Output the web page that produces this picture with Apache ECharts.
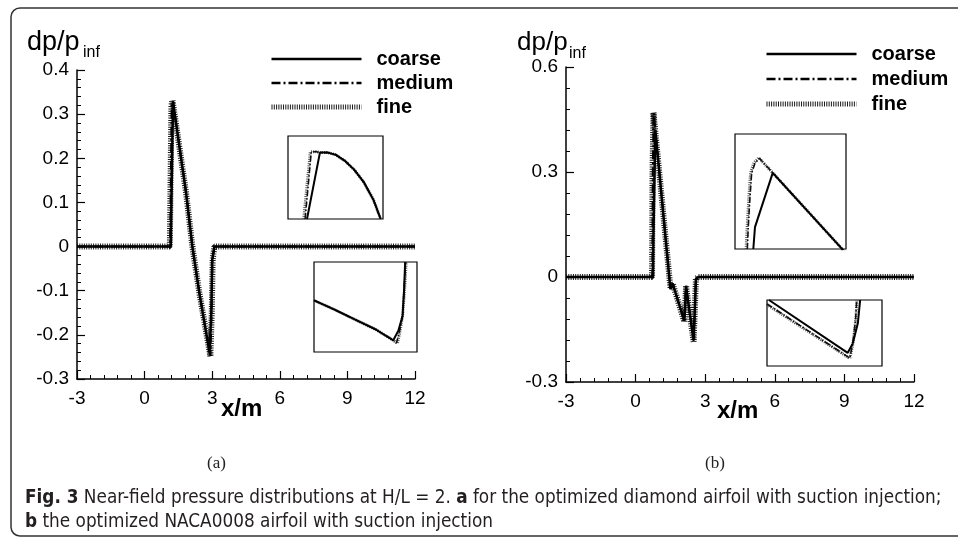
<!DOCTYPE html>
<html>
<head>
<meta charset="utf-8">
<script src="https://cdn.jsdelivr.net/npm/echarts@6/dist/echarts.min.js"></script>
<style>
html, body { margin: 0; padding: 0; background: #fff; }
#chart { width: 958px; height: 540px; }
</style>
</head>
<body>
<div id="chart"></div>
<script>
// grid names, shared by both panels
var seriesNames = ['coarse', 'medium', 'fine'];

// axis ranges / tick steps
var xRange = [-3, 12], xStep = 3;
var yRangeA = [-0.3, 0.4], yStepA = 0.1;
var yRangeB = [-0.3, 0.6], yStepB = 0.3;

// panel (a): optimized diamond airfoil, [x/m, dp/p_inf]
var coarseA = [[-3, 0], [1.16, 0], [1.26, 0.328], [1.84, 0.122], [2.12, 0], [2.43, -0.105], [2.88, -0.24], [2.96, -0.15], [3.0, -0.03], [3.1, 0], [12, 0]];
var mediumA = [[-3, 0], [1.13, 0], [1.2, 0.32], [1.25, 0.33], [1.84, 0.122], [2.12, 0], [2.43, -0.105], [2.92, -0.248], [2.97, -0.15], [3.01, -0.03], [3.1, 0], [12, 0]];
var fineA = [[-3, 0], [1.12, 0], [1.19, 0.32], [1.24, 0.331], [1.84, 0.122], [2.12, 0], [2.43, -0.105], [2.92, -0.249], [2.98, -0.15], [3.02, -0.03], [3.1, 0], [12, 0]];

// panel (b): optimized NACA0008 airfoil
var coarseB = [[-3, 0], [0.75, 0], [0.77, 0.12], [0.85, 0.42], [1.5, -0.035], [1.6, -0.02], [1.65, -0.03], [2.1, -0.125], [2.18, -0.025], [2.2, -0.04], [2.5, -0.18], [2.55, -0.1], [2.6, -0.005], [2.7, 0], [12, 0]];
var mediumB = [[-3, 0], [0.72, 0], [0.74, 0.3], [0.78, 0.468], [1.5, -0.03], [1.6, -0.018], [1.65, -0.03], [2.1, -0.128], [2.18, -0.025], [2.2, -0.04], [2.5, -0.183], [2.55, -0.1], [2.6, -0.005], [2.7, 0], [12, 0]];
var fineB = [[-3, 0], [0.71, 0], [0.73, 0.3], [0.77, 0.47], [1.5, -0.03], [1.6, -0.018], [1.65, -0.03], [2.1, -0.128], [2.18, -0.025], [2.2, -0.04], [2.5, -0.185], [2.55, -0.1], [2.6, -0.005], [2.7, 0], [12, 0]];

// insets, read in box-relative units (0..1 across each box)
var insetA1 = {
  coarse: [[0.2, 0], [0.336, 0.8], [0.42, 0.8], [0.5, 0.775], [0.6, 0.7], [0.7, 0.59], [0.8, 0.44], [0.9, 0.23], [0.975, 0]],
  medium: [[0.18, 0], [0.245, 0.81], [0.3, 0.81], [0.336, 0.8], [0.42, 0.8], [0.5, 0.775], [0.6, 0.7], [0.7, 0.59], [0.8, 0.44], [0.9, 0.23], [0.975, 0]],
  fine: [[0.165, 0], [0.235, 0.81], [0.29, 0.812], [0.336, 0.8], [0.42, 0.8], [0.5, 0.775], [0.6, 0.7], [0.7, 0.59], [0.8, 0.44], [0.9, 0.23], [0.975, 0]]
};
var insetA2 = {
  coarse: [[0, 0.574], [0.2, 0.47], [0.4, 0.36], [0.6, 0.25], [0.77, 0.13], [0.82, 0.24], [0.86, 0.4], [0.875, 0.7], [0.885, 1.0]],
  medium: [[0, 0.574], [0.2, 0.47], [0.4, 0.36], [0.6, 0.25], [0.77, 0.13], [0.8, 0.1], [0.825, 0.2], [0.86, 0.4], [0.875, 0.7], [0.89, 1.0]],
  fine: [[0, 0.574], [0.2, 0.47], [0.4, 0.36], [0.6, 0.25], [0.77, 0.13], [0.81, 0.095], [0.83, 0.2], [0.86, 0.4], [0.88, 0.7], [0.895, 1.0]]
};
var insetB1 = {
  coarse: [[0.165, 0], [0.18, 0.19], [0.34, 0.662], [0.96, 0.006], [1.0, -0.04]],
  medium: [[0.111, 0], [0.12, 0.2], [0.135, 0.45], [0.15, 0.66], [0.18, 0.745], [0.219, 0.79], [0.34, 0.662], [0.96, 0.006], [1.0, -0.04]],
  fine: [[0.1, 0], [0.11, 0.2], [0.125, 0.45], [0.14, 0.66], [0.17, 0.75], [0.215, 0.792], [0.34, 0.662], [0.96, 0.006], [1.0, -0.04]]
};
var insetB2 = {
  coarse: [[0.017, 1.0], [0.702, 0.2], [0.746, 0.343], [0.79, 0.646], [0.81, 1.0]],
  medium: [[0, 0.94], [0.72, 0.12], [0.746, 0.343], [0.77, 0.7], [0.78, 1.0]],
  fine: [[0, 0.93], [0.72, 0.115], [0.748, 0.343], [0.772, 0.7], [0.782, 1.0]]
};

var sans = "'Liberation Sans', Arial, sans-serif";
var narrow = '"Liberation Sans Narrow", "DejaVu Sans Condensed", sans-serif';
var lineStyles = {
  coarse: { color: '#000', width: 2.5, type: 'solid' },
  medium: { color: '#000', width: 2, type: [9, 3, 2, 3] },
  fine: { color: '#1a1a1a', width: 6, type: [1, 1.3] }
};
var insetStyles = {
  coarse: { color: '#000', width: 2, type: 'solid' },
  medium: { color: '#111', width: 1.6, type: [6, 2, 1.5, 2] },
  fine: { color: '#555', width: 3, type: [1, 1.2] }
};

function mainAxes(gridIndex, range, step) {
  return {
    x: {
      type: 'value', gridIndex: gridIndex, min: xRange[0], max: xRange[1], interval: xStep,
      axisLine: { onZero: false, lineStyle: { color: '#000', width: 1.5 } },
      axisTick: { inside: true, length: 8, lineStyle: { color: '#000', width: 1.2 } },
      minorTick: { show: true, splitNumber: 5, length: 4, lineStyle: { color: '#000', width: 1 } },
      splitLine: { show: false },
      axisLabel: { color: '#000', fontSize: 19, fontFamily: sans, margin: 10 }
    },
    y: {
      type: 'value', gridIndex: gridIndex, min: range[0], max: range[1], interval: step,
      axisLine: { onZero: false, lineStyle: { color: '#000', width: 1.5 } },
      axisTick: { inside: true, length: 8, lineStyle: { color: '#000', width: 1.2 } },
      minorTick: { show: true, splitNumber: 5, length: 4, lineStyle: { color: '#000', width: 1 } },
      splitLine: { show: false },
      axisLabel: { color: '#000', fontSize: 19, fontFamily: sans, margin: 8 }
    }
  };
}

function insetAxes(gridIndex) {
  return {
    x: { type: 'value', gridIndex: gridIndex, min: 0, max: 1, show: false, splitLine: { show: false } },
    y: { type: 'value', gridIndex: gridIndex, min: 0, max: 1, show: false, splitLine: { show: false } }
  };
}

var axA = mainAxes(0, yRangeA, yStepA);
var axB = mainAxes(1, yRangeB, yStepB);
var insetAx = [insetAxes(2), insetAxes(3), insetAxes(4), insetAxes(5)];

var insetBox = { show: true, borderColor: '#000', borderWidth: 1.2, backgroundColor: '#fff' };

var series = [];
function addMain(idx, data) {
  // fine underneath, coarse on top
  ['fine', 'medium', 'coarse'].forEach(function (name) {
    series.push({
      name: name, type: 'line', xAxisIndex: idx, yAxisIndex: idx,
      data: data[name], symbol: 'none', lineStyle: lineStyles[name],
      itemStyle: { color: '#000' }, z: 3
    });
  });
}
function addInset(idx, data) {
  ['fine', 'medium', 'coarse'].forEach(function (name) {
    series.push({
      name: name, type: 'line', xAxisIndex: idx, yAxisIndex: idx,
      data: data[name], symbol: 'none', lineStyle: insetStyles[name],
      itemStyle: { color: '#000' }, z: 5
    });
  });
}
addMain(0, { coarse: coarseA, medium: mediumA, fine: fineA });
addMain(1, { coarse: coarseB, medium: mediumB, fine: fineB });
addInset(2, insetA1);
addInset(3, insetA2);
addInset(4, insetB1);
addInset(5, insetB2);

function legendAt(left, top, gap) {
  return {
    orient: 'vertical', left: left, top: top, padding: 0,
    itemWidth: 90, itemHeight: 14, itemGap: gap,
    selectedMode: false,
    itemStyle: { opacity: 0 },
    data: [
      { name: 'coarse', lineStyle: { width: 2.5 } },
      { name: 'medium', lineStyle: { width: 2.5 } },
      { name: 'fine', lineStyle: { width: 5 } }
    ],
    textStyle: { color: '#000', fontSize: 20, fontWeight: 'bold', fontFamily: sans, padding: [0, 0, 0, 10], lineHeight: 20 }
  };
}

var chart = echarts.init(document.getElementById('chart'), null, { renderer: 'canvas' });
chart.setOption({
  backgroundColor: '#fff',
  animation: false,
  grid: [
    { left: 77, top: 70, width: 338, height: 309, outerBoundsMode: 'none' },
    { left: 566, top: 67, width: 348, height: 315, outerBoundsMode: 'none' },
    Object.assign({ left: 288, top: 136, width: 95, height: 83, outerBoundsMode: 'none' }, insetBox),
    Object.assign({ left: 314, top: 262, width: 103, height: 90, outerBoundsMode: 'none' }, insetBox),
    Object.assign({ left: 735, top: 134, width: 111, height: 115, outerBoundsMode: 'none' }, insetBox),
    Object.assign({ left: 767, top: 300, width: 115, height: 66, outerBoundsMode: 'none' }, insetBox)
  ],
  xAxis: [axA.x, axB.x, insetAx[0].x, insetAx[1].x, insetAx[2].x, insetAx[3].x],
  yAxis: [axA.y, axB.y, insetAx[0].y, insetAx[1].y, insetAx[2].y, insetAx[3].y],
  legend: [legendAt(269, 49, 4), legendAt(764, 44, 5)],
  series: series,
  graphic: [
    { type: 'rect', silent: true, shape: { x: 11, y: 8, width: 990, height: 528, r: 9 },
      style: { fill: 'none', stroke: '#333', lineWidth: 1.5 } },
    // y titles
    { type: 'text', left: 27, top: 29, style: { text: 'dp/p', font: '27px ' + sans, fill: '#000' } },
    { type: 'text', left: 83, top: 45, style: { text: 'inf', font: '16px ' + sans, fill: '#000' } },
    { type: 'text', left: 517, top: 30, style: { text: 'dp/p', font: '26px ' + sans, fill: '#000' } },
    { type: 'text', left: 569, top: 46, style: { text: 'inf', font: '16px ' + sans, fill: '#000' } },
    // x titles
    { type: 'text', left: 221, top: 397, style: { text: 'x/m', font: 'bold 24px ' + sans, fill: '#000' } },
    { type: 'text', left: 717, top: 399, style: { text: 'x/m', font: 'bold 24px ' + sans, fill: '#000' } },
    // panel labels
    { type: 'text', left: 207, top: 455, style: { text: '(a)', font: '17px "Liberation Serif", serif', fill: '#222' } },
    { type: 'text', left: 705, top: 455, style: { text: '(b)', font: '17px "Liberation Serif", serif', fill: '#222' } },
    // caption
    { type: 'text', left: 25, top: 486, style: {
        text: '{b|Fig. 3} Near-field pressure distributions at H/L = 2. {b|a} for the optimized diamond airfoil with suction injection;\n{b|b} the optimized NACA0008 airfoil with suction injection',
        font: '18.8px ' + narrow,
        fill: '#231f20', lineHeight: 24,
        rich: { b: { fontWeight: 'bold', fontSize: 18.8, fontFamily: narrow, fill: '#231f20' } }
      } }
  ]
});
</script>
</body>
</html>
